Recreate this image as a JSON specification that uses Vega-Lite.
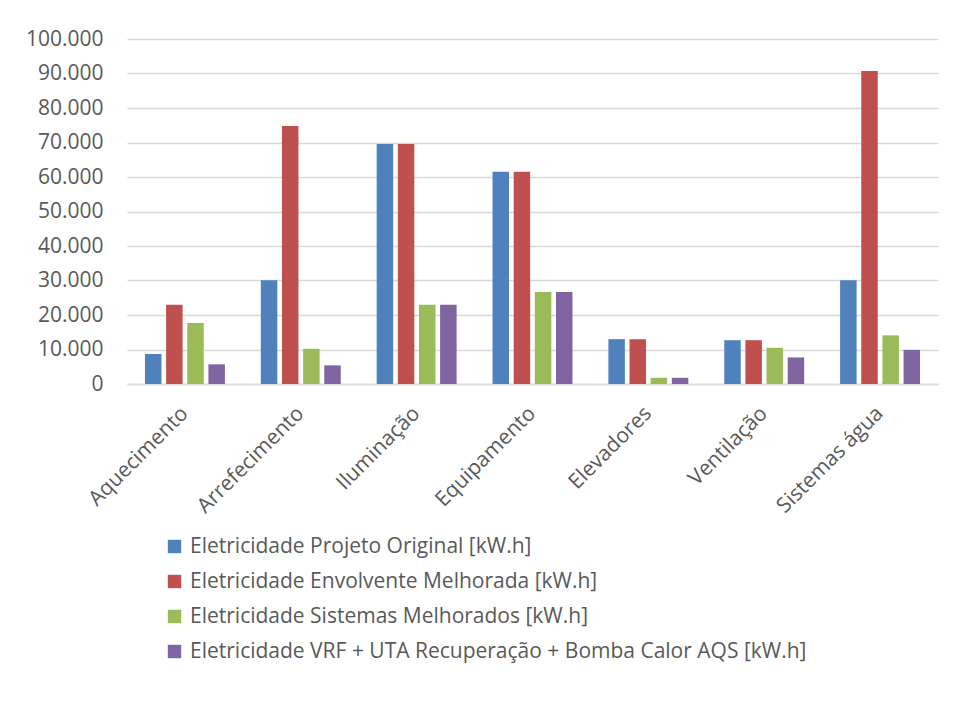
{
  "$schema": "https://vega.github.io/schema/vega-lite/v6.json",
  "width": 811,
  "height": 345,
  "autosize": {"type": "none"},
  "padding": {"left": 127, "top": 39, "right": 17, "bottom": 340},
  "background": "white",
  "config": {
    "view": {"stroke": null},
    "font": "Open Sans"
  },
  "data": {
    "values": [
      {"categoria": "Aquecimento", "serie": "Eletricidade Projeto Original [kW.h]", "valor": 8700},
      {"categoria": "Aquecimento", "serie": "Eletricidade Envolvente Melhorada [kW.h]", "valor": 23000},
      {"categoria": "Aquecimento", "serie": "Eletricidade Sistemas Melhorados [kW.h]", "valor": 17700},
      {"categoria": "Aquecimento", "serie": "Eletricidade VRF + UTA Recuperação + Bomba Calor AQS [kW.h]", "valor": 5700},
      {"categoria": "Arrefecimento", "serie": "Eletricidade Projeto Original [kW.h]", "valor": 30100},
      {"categoria": "Arrefecimento", "serie": "Eletricidade Envolvente Melhorada [kW.h]", "valor": 74800},
      {"categoria": "Arrefecimento", "serie": "Eletricidade Sistemas Melhorados [kW.h]", "valor": 10200},
      {"categoria": "Arrefecimento", "serie": "Eletricidade VRF + UTA Recuperação + Bomba Calor AQS [kW.h]", "valor": 5400},
      {"categoria": "Iluminação", "serie": "Eletricidade Projeto Original [kW.h]", "valor": 69600},
      {"categoria": "Iluminação", "serie": "Eletricidade Envolvente Melhorada [kW.h]", "valor": 69600},
      {"categoria": "Iluminação", "serie": "Eletricidade Sistemas Melhorados [kW.h]", "valor": 23000},
      {"categoria": "Iluminação", "serie": "Eletricidade VRF + UTA Recuperação + Bomba Calor AQS [kW.h]", "valor": 23000},
      {"categoria": "Equipamento", "serie": "Eletricidade Projeto Original [kW.h]", "valor": 61500},
      {"categoria": "Equipamento", "serie": "Eletricidade Envolvente Melhorada [kW.h]", "valor": 61500},
      {"categoria": "Equipamento", "serie": "Eletricidade Sistemas Melhorados [kW.h]", "valor": 26700},
      {"categoria": "Equipamento", "serie": "Eletricidade VRF + UTA Recuperação + Bomba Calor AQS [kW.h]", "valor": 26700},
      {"categoria": "Elevadores", "serie": "Eletricidade Projeto Original [kW.h]", "valor": 13000},
      {"categoria": "Elevadores", "serie": "Eletricidade Envolvente Melhorada [kW.h]", "valor": 13000},
      {"categoria": "Elevadores", "serie": "Eletricidade Sistemas Melhorados [kW.h]", "valor": 1800},
      {"categoria": "Elevadores", "serie": "Eletricidade VRF + UTA Recuperação + Bomba Calor AQS [kW.h]", "valor": 1800},
      {"categoria": "Ventilação", "serie": "Eletricidade Projeto Original [kW.h]", "valor": 12700},
      {"categoria": "Ventilação", "serie": "Eletricidade Envolvente Melhorada [kW.h]", "valor": 12700},
      {"categoria": "Ventilação", "serie": "Eletricidade Sistemas Melhorados [kW.h]", "valor": 10500},
      {"categoria": "Ventilação", "serie": "Eletricidade VRF + UTA Recuperação + Bomba Calor AQS [kW.h]", "valor": 7700},
      {"categoria": "Sistemas água", "serie": "Eletricidade Projeto Original [kW.h]", "valor": 30100},
      {"categoria": "Sistemas água", "serie": "Eletricidade Envolvente Melhorada [kW.h]", "valor": 90700},
      {"categoria": "Sistemas água", "serie": "Eletricidade Sistemas Melhorados [kW.h]", "valor": 14100},
      {"categoria": "Sistemas água", "serie": "Eletricidade VRF + UTA Recuperação + Bomba Calor AQS [kW.h]", "valor": 9900}
    ]
  },
  "mark": {"type": "bar"},
  "encoding": {
    "x": {
      "field": "categoria",
      "type": "nominal",
      "sort": null,
      "scale": {"paddingInner": 0.31, "paddingOuter": 0.155},
      "axis": {
        "title": null,
        "labelAngle": -45,
        "labelAlign": "right",
        "labelBaseline": "middle",
        "labelPadding": 26,
        "labelFontSize": 21,
        "labelColor": "#595959",
        "ticks": false,
        "domainColor": "#d9d9d9",
        "domainWidth": 1.5,
        "grid": false
      }
    },
    "xOffset": {
      "field": "serie",
      "type": "nominal",
      "sort": null,
      "scale": {"paddingInner": 0.22, "paddingOuter": 0}
    },
    "y": {
      "field": "valor",
      "type": "quantitative",
      "scale": {"domain": [0, 100000], "nice": false},
      "axis": {
        "title": null,
        "values": [0, 10000, 20000, 30000, 40000, 50000, 60000, 70000, 80000, 90000, 100000],
        "labelExpr": "replace(format(datum.value, ','), ',', '.')",
        "labelFontSize": 21,
        "labelColor": "#595959",
        "labelPadding": 24,
        "ticks": false,
        "domain": false,
        "grid": true,
        "gridColor": "#d9d9d9",
        "gridWidth": 1.3
      }
    },
    "color": {
      "field": "serie",
      "type": "nominal",
      "scale": {
        "domain": [
          "Eletricidade Projeto Original [kW.h]",
          "Eletricidade Envolvente Melhorada [kW.h]",
          "Eletricidade Sistemas Melhorados [kW.h]",
          "Eletricidade VRF + UTA Recuperação + Bomba Calor AQS [kW.h]"
        ],
        "range": ["#4f81bd", "#c0504d", "#9bbb59", "#8064a2"]
      },
      "legend": {
        "title": null,
        "orient": "none",
        "legendX": 37,
        "legendY": 497,
        "direction": "vertical",
        "symbolType": "square",
        "symbolSize": 180,
        "symbolStrokeWidth": 0,
        "labelFontSize": 21,
        "labelColor": "#595959",
        "labelOffset": 5,
        "labelLimit": 800,
        "rowPadding": 13,
        "padding": 0
      }
    }
  }
}
